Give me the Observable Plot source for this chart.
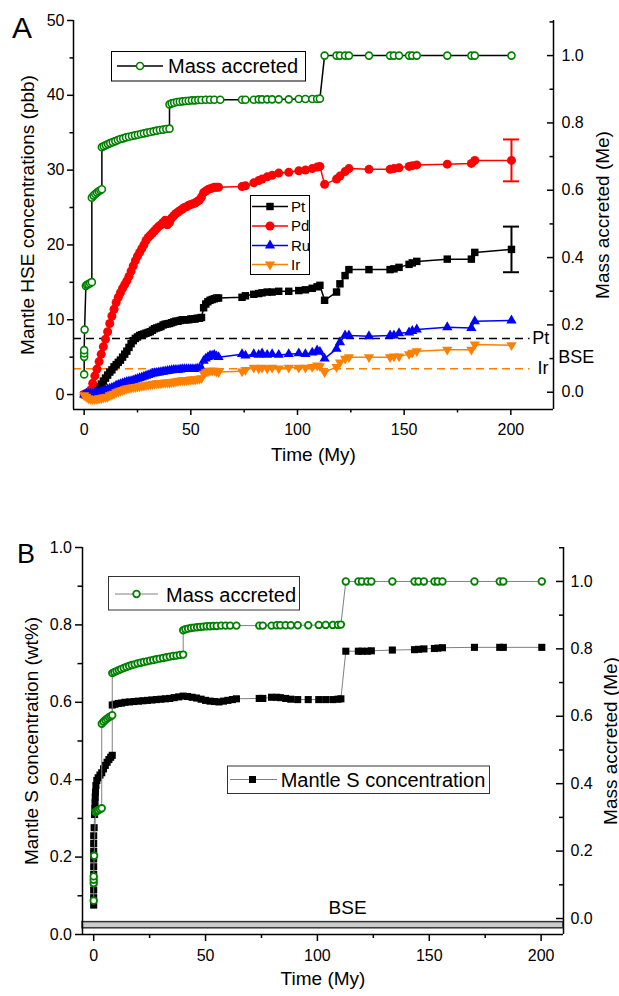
<!DOCTYPE html>
<html><head><meta charset="utf-8">
<script src="https://cdn.jsdelivr.net/npm/d3@7"></script>
<script src="https://cdn.jsdelivr.net/npm/@observablehq/plot@0.6"></script>
<style>
html,body{margin:0;padding:0;background:#fff}
body{width:619px;height:996px;overflow:hidden;position:relative}
#a,#b{position:absolute;left:0}
#a{top:0}#b{top:500px}
svg{display:block}
</style></head><body>
<div id="a"></div><div id="b"></div>
<script>
// ---------- data ----------
const massTime = [0,0,0,0,0.2,0.8,1.4,2.0,2.8,3.6,3.6,4.4,5.2,6.0,6.8,7.6,8.3,8.3,9.2,10.2,11.2,12.2,13.4,14.6,15.8,17.0,18.3,19.6,21.0,22.4,23.8,25.2,26.6,28.0,29.5,31.0,32.5,34.0,35.5,37.0,38.5,40.0,40.0,41.0,42.2,43.5,44.8,46.2,47.6,49.0,50.5,52.0,53.5,55.0,57.0,59.0,61.0,63.8,74.0,75.6,79.5,81.8,83.4,85.8,88.1,91.2,95.9,100.6,103.7,106.9,109.2,110.5,112.7,118.3,119.9,122.3,124.1,133.5,143.4,145.2,147.6,152.3,153.8,155.9,170.2,181.5,183.1,200.3];
const massVal = [0.053,0.105,0.115,0.125,0.186,0.316,0.319,0.321,0.324,0.327,0.578,0.584,0.589,0.593,0.597,0.600,0.603,0.728,0.731,0.734,0.737,0.740,0.743,0.746,0.749,0.752,0.754,0.757,0.759,0.761,0.763,0.765,0.767,0.769,0.771,0.773,0.775,0.777,0.779,0.780,0.782,0.783,0.855,0.858,0.860,0.862,0.863,0.864,0.865,0.866,0.867,0.867,0.868,0.868,0.869,0.869,0.869,0.869,0.869,0.869,0.869,0.870,0.870,0.870,0.870,0.870,0.870,0.871,0.871,0.871,0.871,0.872,1.0,1.0,1.0,1.0,1.0,1.0,1.0,1.0,1.0,1.0,1.0,1.0,1.0,1.0,1.0,1.0];

const hseTime = [0,1,2,3,4,5,6,7,8,9,10,11,12,13,14,15,16,17,18,19,20,21,22,23,24,25,26,27,28,29,30,31,32,33,34,35,36,37,38,39,40,41,42,43,44,45,46,47,48,49,50,51,52,53,54,55,56,57,58,59,60,61,62,63,74,75.6,79.5,81.8,83.4,85.8,88.1,91.2,95.9,100.6,103.7,106.9,109.2,110.5,112.7,118.3,119.9,122.3,124.1,133.5,143.4,145.2,147.6,152.3,153.8,155.9,170.2,181.5,183.1,200.3];
const pt = [0,0,0,0.1,0.2,0.4,0.6,1.0,1.4,1.8,2.2,2.6,3.0,3.3,3.7,4.0,4.3,4.6,5.0,5.4,5.8,6.3,6.8,7.2,7.5,7.7,7.9,8.0,8.1,8.2,8.3,8.4,8.6,8.8,8.9,9.0,9.1,9.3,9.4,9.45,9.5,9.6,9.7,9.8,9.8,9.9,10.0,10.0,10.0,10.0,10.1,10.1,10.1,10.2,10.2,10.3,11.6,12.1,12.4,12.6,12.7,12.8,12.9,12.9,13.0,13.2,13.4,13.5,13.6,13.7,13.7,13.8,13.8,13.9,14.0,14.2,14.4,14.6,12.6,13.7,14.8,15.9,16.7,16.7,16.7,16.8,17.0,17.4,17.6,17.8,18.1,18.1,19.0,19.4];
const pd = [0,0.1,0.3,0.6,1.5,2.5,3.4,4.4,5.4,6.4,7.4,8.4,9.5,10.5,11.4,12.3,13.0,13.6,14.2,14.7,15.2,15.8,16.5,17.2,17.9,18.5,19.0,19.5,20.0,20.6,21.0,21.3,21.6,21.9,22.2,22.5,22.7,23.0,23.3,22.7,23.0,23.6,23.9,24.2,24.4,24.6,24.8,25.0,25.1,25.3,25.4,25.5,25.6,25.8,26.0,26.4,27.0,27.2,27.4,27.5,27.6,27.7,27.7,27.7,27.8,27.9,28.3,28.6,28.8,29.1,29.3,29.6,29.7,29.9,30.0,30.2,30.4,30.5,28.1,28.8,29.2,29.8,30.2,30.1,30.1,30.2,30.3,30.5,30.6,30.7,30.8,30.9,31.3,31.3];
const ru = [0,0.1,0.1,0.1,0.1,0.2,0.2,0.3,0.4,0.5,0.6,0.7,0.8,0.9,1.0,1.2,1.3,1.4,1.5,1.6,1.7,1.75,1.8,1.9,2.0,2.1,2.2,2.3,2.4,2.5,2.6,2.7,2.8,2.85,2.9,2.95,3.0,3.05,3.1,3.15,3.2,3.25,3.3,3.3,3.3,3.35,3.4,3.4,3.4,3.4,3.4,3.4,3.4,3.45,3.5,3.5,4.5,4.8,5.0,5.2,5.2,5.3,5.1,5.0,5.4,5.2,5.4,5.3,5.5,5.3,5.4,5.3,5.4,5.5,5.4,5.6,5.9,5.7,4.8,6.1,7.0,7.9,7.9,7.8,7.9,7.9,8.2,8.3,8.5,8.7,9.0,8.9,9.8,9.9];
const ir = [-0.1,-0.3,-0.5,-0.6,-0.6,-0.6,-0.6,-0.5,-0.5,-0.4,-0.35,-0.3,-0.1,0.0,0.1,0.3,0.4,0.5,0.6,0.7,0.8,0.85,0.9,0.95,1.0,1.05,1.1,1.15,1.2,1.25,1.3,1.35,1.4,1.45,1.5,1.5,1.5,1.55,1.6,1.6,1.6,1.65,1.7,1.75,1.8,1.85,1.9,1.9,1.9,1.95,2.0,2.0,2.0,2.05,2.1,2.2,2.8,3.0,3.1,3.2,3.2,3.2,3.1,3.0,3.1,3.3,3.6,3.5,3.6,3.5,3.6,3.5,3.6,3.6,3.6,3.7,3.9,3.8,3.0,3.7,4.3,4.8,5.0,5.0,5.0,5.1,5.1,5.4,5.6,5.8,6.0,6.0,6.7,6.6];
const errTime = 200.3;
const ptErr = 3.05, pdErr = 2.8;
const bseLabels = ["Pt","Ir"];
const bseValues = [7.5, 3.45];

const sTime = [0,0,0,0,0,0,0,0,0,0,0.2,0.4,0.5,0.6,0.7,0.8,1.0,1.4,2.0,2.8,3.6,4.4,5.2,6.0,6.8,7.6,8.3,8.3,9.5,11,12.5,14,16,18,20,22,24,26,28,30,32,34,36,38,40,42,44,46,48,50,52,54,56,58,60,62,63.8,74.0,75.6,79.5,81.8,83.4,85.8,88.1,91.2,95.9,100.6,103.7,106.9,109.2,110.5,112.7,118.3,119.9,122.3,124.1,133.5,143.4,145.2,147.6,152.3,153.8,155.9,170.2,181.5,183.1,200.3];
const sConc = [0.076,0.095,0.115,0.135,0.155,0.175,0.195,0.215,0.235,0.255,0.276,0.31,0.325,0.34,0.355,0.368,0.385,0.398,0.405,0.412,0.418,0.428,0.437,0.445,0.452,0.458,0.463,0.593,0.595,0.597,0.598,0.600,0.601,0.602,0.603,0.604,0.605,0.606,0.607,0.608,0.609,0.610,0.612,0.614,0.616,0.615,0.613,0.611,0.608,0.605,0.603,0.602,0.601,0.603,0.605,0.607,0.609,0.610,0.610,0.613,0.613,0.612,0.610,0.608,0.607,0.607,0.607,0.607,0.607,0.608,0.609,0.732,0.732,0.732,0.732,0.733,0.735,0.736,0.737,0.738,0.739,0.740,0.741,0.742,0.742,0.742,0.742];
const bseS = [0.016, 0.032];

const xTicks = [0,50,100,150,200], xMinor = [25,75,125,175];
const yTicksA = [0,10,20,30,40,50], yMinorA = [5,15,25,35,45];
const massTicks = [0,0.2,0.4,0.6,0.8,1.0], massMinor = [0.1,0.3,0.5,0.7,0.9,1.1];
const yTicksB = [0,0.2,0.4,0.6,0.8,1.0], yMinorB = [0.1,0.3,0.5,0.7,0.9];

// ---------- styling ----------
const F = "'Liberation Sans', Arial, Helvetica, sans-serif";
const green = "#008000", orange = "#ff8000", red = "#ff0000", blue = "#0000ff";
const W = 619;

// ---------- panel A ----------
const xDomA = [-5, 220], yDomA = [-2, 50];
const mLA = 73, mRA = 66;
const pxA = (W - mLA - mRA) / (xDomA[1] - xDomA[0]);
const mA = m => 0.31 + 45.0 * m;
const mass = massTime.map((t, i) => ({t, v: massVal[i]}));
const hse = hseTime.map((t, i) => ({t, Pt: pt[i], Pd: pd[i], Ru: ru[i], Ir: ir[i]}));
const errRows = [{t: errTime, v: pt[pt.length-1], e: ptErr, c: "#000"}, {t: errTime, v: pd[pd.length-1], e: pdErr, c: red}];
const capA = 8 / pxA;

const series = [
  {k: "Pt", c: "#000", sym: "square", r: 4.2, rot: 0},
  {k: "Pd", c: red, sym: "circle", r: 4.5, rot: 0},
  {k: "Ru", c: blue, sym: "triangle", r: 3.8, rot: 0},
  {k: "Ir", c: orange, sym: "triangle", r: 3.8, rot: 180}
];

const marksA = [
  Plot.ruleY([bseValues[0]], {x1: xDomA[0], x2: 209, stroke: "#000", strokeWidth: 1.5, strokeDasharray: "8,5"}),
  Plot.ruleY([bseValues[1]], {x1: xDomA[0], x2: 209, stroke: orange, strokeWidth: 1.5, strokeDasharray: "8,5"})
];
for (const s of series) {
  marksA.push(Plot.line(hse, {x: "t", y: s.k, stroke: s.c, strokeWidth: 1.5}));
  marksA.push(Plot.dot(hse, {x: "t", y: s.k, symbol: s.sym, r: s.r, fill: s.c, stroke: "none", rotate: s.rot}));
}
for (const e of errRows) {
  marksA.push(Plot.ruleX([e], {x: "t", y1: d => d.v - d.e, y2: d => d.v + d.e, stroke: e.c, strokeWidth: 2}));
  marksA.push(Plot.ruleY([e], {y: d => d.v - d.e, x1: d => d.t - capA, x2: d => d.t + capA, stroke: e.c, strokeWidth: 2}));
  marksA.push(Plot.ruleY([e], {y: d => d.v + d.e, x1: d => d.t - capA, x2: d => d.t + capA, stroke: e.c, strokeWidth: 2}));
}
marksA.push(
  Plot.line(mass, {x: "t", y: d => mA(d.v), stroke: "#000", strokeWidth: 1.5}),
  Plot.dot(mass, {x: "t", y: d => mA(d.v), r: 3.5, fill: "white", stroke: green, strokeWidth: 1.6}),
  Plot.text([bseLabels[0]], {x: 210, y: bseValues[0], textAnchor: "start", fontSize: 18}),
  Plot.text([bseLabels[1]], {x: 212.5, y: bseValues[1], textAnchor: "start", fontSize: 18}),
  Plot.text(["BSE"], {x: 222.2, y: 5.0, textAnchor: "start", fontSize: 18}),
  // axes
  Plot.axisX(xTicks, {tickSize: 6, tickPadding: 8, tickFormat: d => String(d), label: null, strokeWidth: 1.5, fontSize: 16}),
  Plot.axisX(xMinor, {tickSize: 3.5, tickFormat: () => "", label: null, strokeWidth: 1.5}),
  Plot.axisY(yTicksA, {tickSize: 6, tickPadding: 3, tickFormat: d => String(d), label: null, strokeWidth: 1.5, fontSize: 16}),
  Plot.axisY(yMinorA, {tickSize: 3.5, tickFormat: () => "", label: null, strokeWidth: 1.5}),
  Plot.axisY(massTicks.map(mA), {anchor: "right", tickSize: 0, tickPadding: 8, tickFormat: v => ((v - 0.31) / 45).toFixed(1), label: null, fontSize: 16}),
  Plot.ruleY(massTicks.map(mA), {x1: xDomA[1] - 6 / pxA, x2: xDomA[1], strokeWidth: 1.5}),
  Plot.ruleY(massMinor.map(mA), {x1: xDomA[1] - 3.5 / pxA, x2: xDomA[1], strokeWidth: 1.5}),
  Plot.ruleX([xDomA[0]], {strokeWidth: 1.5}),
  Plot.ruleX([xDomA[1]], {strokeWidth: 1.5}),
  Plot.ruleY([yDomA[0]], {strokeWidth: 1.5}),
  Plot.text(["Time (My)"], {frameAnchor: "bottom", dy: 51, fontSize: 19}),
  Plot.text(["Mantle HSE concentrations (pbb)"], {frameAnchor: "left", textAnchor: "middle", dx: -46, rotate: -90, fontSize: 19}),
  Plot.text(["Mass accreted (Me)"], {frameAnchor: "right", textAnchor: "middle", dx: 49.5, rotate: -90, fontSize: 19})
);

const plotA = Plot.plot({
  width: W, height: 500,
  marginLeft: mLA, marginRight: mRA, marginTop: 20, marginBottom: 91,
  x: {domain: xDomA}, y: {domain: yDomA},
  style: {fontFamily: F, fontSize: "16px", color: "#000", background: "transparent", overflow: "visible"},
  marks: marksA
});
document.getElementById("a").append(plotA);

// legends panel A
{
  const g = d3.select(plotA).append("g").attr("font-family", F).attr("fill", "#000").attr("text-anchor", "start");
  g.append("text").attr("x", 12).attr("y", 38).attr("font-size", 30).text("A");
  g.append("rect").attr("x", 111.5).attr("y", 51.5).attr("width", 194).attr("height", 29.5).attr("fill", "white").attr("stroke", "#000").attr("stroke-width", 1);
  g.append("line").attr("x1", 117).attr("x2", 163).attr("y1", 66).attr("y2", 66).attr("stroke", "#000").attr("stroke-width", 1.5);
  g.append("circle").attr("cx", 140).attr("cy", 66).attr("r", 3.5).attr("fill", "white").attr("stroke", green).attr("stroke-width", 1.6);
  g.append("text").attr("x", 168).attr("y", 72.5).attr("font-size", 20).text("Mass accreted");
  g.append("rect").attr("x", 250.5).attr("y", 195.5).attr("width", 59).attr("height", 79).attr("fill", "white").attr("stroke", "#000").attr("stroke-width", 1);
  const ys = [206.5, 226, 245.5, 264.5];
  const types = {square: d3.symbolSquare, circle: d3.symbolCircle, triangle: d3.symbolTriangle};
  series.forEach((s, i) => {
    g.append("line").attr("x1", 252).attr("x2", 288).attr("y1", ys[i]).attr("y2", ys[i]).attr("stroke", s.c).attr("stroke-width", 1.5);
    g.append("path").attr("d", d3.symbol(types[s.sym], Math.PI * s.r * s.r)()).attr("fill", s.c)
      .attr("transform", `translate(270,${ys[i]}) rotate(${s.rot})`);
    g.append("text").attr("x", 291).attr("y", ys[i]).attr("dy", "0.35em").attr("font-size", 15).text(s.k);
  });
}

// ---------- panel B ----------
const xDomB = [-5, 210], yDomB = [0, 1];
const mLB = 82, mRB = 56;
const pxB = (W - mLB - mRB) / (xDomB[1] - xDomB[0]);
const mB = m => 0.0413 + 0.871 * m;
const sRows = sTime.map((t, i) => ({t, v: sConc[i]}));

const plotB = Plot.plot({
  width: W, height: 496,
  marginLeft: mLB, marginRight: mRB, marginTop: 47, marginBottom: 62,
  x: {domain: xDomB}, y: {domain: yDomB},
  style: {fontFamily: F, fontSize: "16px", color: "#000", background: "transparent", overflow: "visible"},
  marks: [
    Plot.rect([bseS], {x1: xDomB[0], x2: xDomB[1], y1: d => d[0], y2: d => d[1], fill: "#cccccc", stroke: "#333", strokeWidth: 1.5}),
    Plot.text(["BSE"], {x: 113.5, y: bseS[1], dy: -14, fontSize: 19}),
    Plot.line(sRows, {x: "t", y: "v", stroke: "#808080", strokeWidth: 1}),
    Plot.dot(sRows, {x: "t", y: "v", symbol: "square", r: 4.0, fill: "#000", stroke: "none"}),
    Plot.line(mass, {x: "t", y: d => mB(d.v), stroke: "#808080", strokeWidth: 1}),
    Plot.dot(mass, {x: "t", y: d => mB(d.v), r: 3.3, fill: "white", stroke: green, strokeWidth: 1.8}),
    Plot.axisX(xTicks, {tickSize: 7, tickPadding: 8, tickFormat: d => String(d), label: null, strokeWidth: 1.5, fontSize: 16}),
    Plot.axisX(xMinor, {tickSize: 4, tickFormat: () => "", label: null, strokeWidth: 1.5}),
    Plot.axisY(yTicksB, {tickSize: 7, tickPadding: 3.5, tickFormat: d => d.toFixed(1), label: null, strokeWidth: 1.5, fontSize: 16}),
    Plot.axisY(yMinorB, {tickSize: 4.5, tickFormat: () => "", label: null, strokeWidth: 1.5}),
    Plot.axisY(massTicks.map(mB), {anchor: "right", tickSize: 0, tickPadding: 7, tickFormat: v => ((v - 0.0413) / 0.871).toFixed(1), label: null, fontSize: 16}),
    Plot.ruleY(massTicks.map(mB), {x1: xDomB[1] - 7 / pxB, x2: xDomB[1], strokeWidth: 1.5}),
    Plot.ruleY(massMinor.map(mB), {x1: xDomB[1] - 4 / pxB, x2: xDomB[1], strokeWidth: 1.5}),
    Plot.ruleX([xDomB[0]], {strokeWidth: 1.5}),
    Plot.ruleX([xDomB[1]], {strokeWidth: 1.5}),
    Plot.ruleY([yDomB[0]], {strokeWidth: 1.5}),
    Plot.text(["Time (My)"], {frameAnchor: "bottom", dy: 50, fontSize: 19}),
    Plot.text(["Mantle S concentration (wt%)"], {frameAnchor: "left", textAnchor: "middle", dx: -51, rotate: -90, fontSize: 19}),
    Plot.text(["Mass accreted (Me)"], {frameAnchor: "right", textAnchor: "middle", dx: 47, rotate: -90, fontSize: 19})
  ]
});
document.getElementById("b").append(plotB);

{
  const g = d3.select(plotB).append("g").attr("font-family", F).attr("fill", "#000").attr("text-anchor", "start");
  g.append("text").attr("x", 17).attr("y", 62.7).attr("font-size", 27).text("B");
  g.append("rect").attr("x", 108.5).attr("y", 76.5).attr("width", 191).attr("height", 33.5).attr("fill", "white").attr("stroke", "#333").attr("stroke-width", 1);
  g.append("line").attr("x1", 115).attr("x2", 158).attr("y1", 94).attr("y2", 94).attr("stroke", "#808080").attr("stroke-width", 1);
  g.append("circle").attr("cx", 136.5).attr("cy", 94).attr("r", 3.3).attr("fill", "white").attr("stroke", green).attr("stroke-width", 1.8);
  g.append("text").attr("x", 166).attr("y", 101.5).attr("font-size", 20).text("Mass accreted");
  g.append("rect").attr("x", 227.5).attr("y", 266).attr("width", 262).attr("height", 27.5).attr("fill", "white").attr("stroke", "#333").attr("stroke-width", 1);
  g.append("line").attr("x1", 230).attr("x2", 277).attr("y1", 279.5).attr("y2", 279.5).attr("stroke", "#808080").attr("stroke-width", 1);
  g.append("rect").attr("x", 249).attr("y", 276).attr("width", 7).attr("height", 7).attr("fill", "#000");
  g.append("text").attr("x", 280.7).attr("y", 286.7).attr("font-size", 20).text("Mantle S concentration");
}
</script>
</body></html>
